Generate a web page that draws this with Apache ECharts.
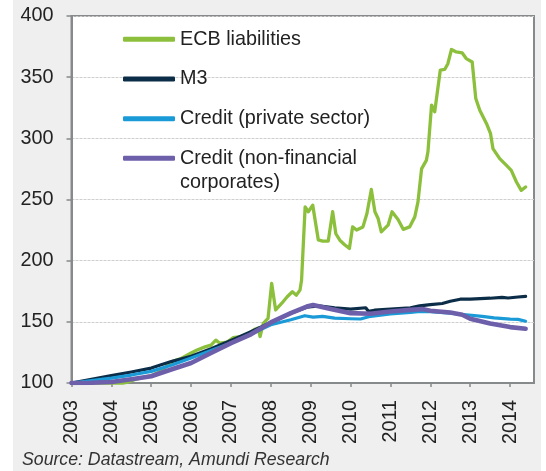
<!DOCTYPE html>
<html>
<head>
<meta charset="utf-8">
<script src="https://cdn.jsdelivr.net/npm/echarts@6/dist/echarts.min.js"></script>
<style>
  html, body { margin: 0; padding: 0; background: #ffffff; }
  #bg { position: absolute; left: 13px; top: 0; width: 528px; height: 471px; background: #efefef; }
  #chart { position: absolute; left: 0; top: 0; width: 546px; height: 471px; }
</style>
</head>
<body>
<div id="bg"></div>
<div id="chart"></div>
<script>
// ---- data ----
const seriesNames = ['ECB liabilities', 'M3', 'Credit (private sector)', 'Credit (non-financial corporates)'];
const xTickLabels = [2003, 2004, 2005, 2006, 2007, 2008, 2009, 2010, 2011, 2012, 2013, 2014];
const yTicks = [100, 150, 200, 250, 300, 350, 400];
const sourceText = 'Source: Datastream, Amundi Research';

const ecbYears = [2003.00, 2003.30, 2003.60, 2004.00, 2004.20, 2004.38, 2004.60, 2004.85, 2005.00, 2005.20,
  2005.40, 2005.55, 2005.75, 2006.00, 2006.15, 2006.35, 2006.50, 2006.62, 2006.72, 2006.90,
  2007.05, 2007.25, 2007.45, 2007.60, 2007.68, 2007.73, 2007.81, 2007.93, 2008.02, 2008.12,
  2008.27, 2008.41, 2008.54, 2008.64, 2008.73, 2008.77, 2008.86, 2008.94, 2009.05, 2009.19,
  2009.30, 2009.44, 2009.55, 2009.63, 2009.73, 2009.85, 2009.97, 2010.05, 2010.15, 2010.31,
  2010.41, 2010.52, 2010.61, 2010.69, 2010.77, 2010.94, 2011.04, 2011.19, 2011.32, 2011.48,
  2011.61, 2011.69, 2011.78, 2011.90, 2011.94, 2012.03, 2012.11, 2012.15, 2012.25, 2012.36,
  2012.44, 2012.53, 2012.65, 2012.80, 2012.90, 2013.05, 2013.14, 2013.24, 2013.41, 2013.51,
  2013.57, 2013.74, 2013.91, 2014.03, 2014.16, 2014.28, 2014.39];
const ecbValues = [100, 99.8, 99.2, 98.4, 99, 100.5, 103, 105, 106, 109,
  114, 118, 120, 124.5, 127, 129.5, 131, 135, 132.5, 133.5,
  137, 138, 140.5, 144, 145, 138, 148.8, 152.9, 181.5, 159.7,
  165, 170.5, 174.6, 171.8, 175.9, 184, 244, 240, 245.4, 217,
  216, 216, 240, 222, 216.7, 213, 210, 227.6, 225, 227.6,
  238.6, 258.2, 240, 234.5, 223.5, 229, 240, 233.7, 225.6, 227.6,
  235.8, 248, 275, 282, 289, 327.2, 321.7, 323, 355.8, 356.3,
  361, 372.6, 370.6, 369.8, 365.2, 362.4, 332.5, 322.9, 312, 303.8,
  291.6, 283.4, 277.9, 273.8, 264.3, 257.5, 260.2];

const m3Years = [2003.0, 2003.5, 2004.0, 2004.5, 2005.0, 2005.5, 2006.0, 2006.5, 2007.0, 2007.5,
  2008.0, 2008.5, 2008.9, 2009.2, 2009.6, 2010.0, 2010.38, 2010.45, 2010.6, 2011.0,
  2011.5, 2011.73, 2012.0, 2012.3, 2012.5, 2012.75, 2013.0, 2013.5, 2013.8, 2013.95,
  2014.0, 2014.2, 2014.39];
const m3Values = [100, 103, 106, 109, 112.2, 117.5, 121.8, 128, 134.8, 142,
  149.5, 157, 162, 163, 161.5, 160.4, 161.5, 158.5, 159.5, 160.4,
  161.5, 163, 164, 165, 166.8, 168.5, 168.5, 169.3, 170, 169.5,
  170.6, 170.3, 170.8];

const privYears = [2003.0, 2003.5, 2004.0, 2004.5, 2005.0, 2005.5, 2006.0, 2006.5, 2007.0, 2007.5,
  2008.0, 2008.5, 2008.85, 2009.06, 2009.3, 2009.6, 2010.0, 2010.25, 2010.5, 2011.0,
  2011.5, 2011.75, 2012.0, 2012.5, 2012.9, 2013.3, 2013.6, 2014.0, 2014.2, 2014.39];
const privValues = [100, 102, 104, 106.5, 109.5, 114.5, 120.4, 126.5, 132.6, 140,
  147.6, 151.7, 155, 153.8, 154.5, 153, 152.5, 152.3, 154.5, 156.5,
  157.7, 158.5, 158.3, 157, 155.8, 154.5, 153.3, 152.2, 152, 150.5];

const nfcYears = [2003.0, 2003.5, 2004.0, 2004.5, 2005.0, 2005.5, 2006.0, 2006.5, 2007.0, 2007.5,
  2008.0, 2008.5, 2008.9, 2009.06, 2009.5, 2010.0, 2010.5, 2011.0, 2011.5, 2011.8,
  2012.0, 2012.5, 2012.8, 2013.0, 2013.5, 2014.0, 2014.39];
const nfcValues = [100, 100.2, 100.8, 103, 105.5, 111, 116.3, 124.5, 132.6, 139.8,
  149.5, 157.1, 162.5, 163.8, 160.5, 157.1, 156.6, 158.5, 159.8, 160.4,
  159, 157.6, 155.8, 152.5, 148.6, 145.7, 144.3];

// ---- build chart ----
const zip = (xs, ys) => xs.map((x, i) => [x, ys[i]]);
const FONT = 'Liberation Sans, Arial, Helvetica, sans-serif';
const TXT = '#222222';
const AXIS = '#878a8a';

const colors = ['#8cc03c', '#0c2d48', '#1a9ad7', '#6e5fab'];
const widths = [3.3, 3.2, 3.2, 4.6];
const datasets = [zip(ecbYears, ecbValues), zip(m3Years, m3Values), zip(privYears, privValues), zip(nfcYears, nfcValues)];

const chart = echarts.init(document.getElementById('chart'), null, { renderer: 'canvas' });
chart.setOption({
  animation: false,
  backgroundColor: 'transparent',
  textStyle: { fontFamily: FONT },
  title: {
    text: sourceText,
    left: 22, top: 449, padding: 0,
    textStyle: { fontFamily: FONT, fontSize: 17.7, fontStyle: 'italic', fontWeight: 'normal', color: '#333333', lineHeight: 22 }
  },
  grid: {
    left: 71.5, right: 12, top: 16, bottom: 88,
    show: true, backgroundColor: '#ffffff', borderColor: AXIS, borderWidth: 2
  },
  legend: [
    {
      data: seriesNames.slice(0, 3),
      orient: 'vertical', left: 123, top: 27.3, padding: 0, itemGap: 15.7,
      itemWidth: 52, itemHeight: 5, icon: 'roundRect', selectedMode: false,
      textStyle: { fontFamily: FONT, fontSize: 19.8, lineHeight: 24, color: TXT }
    },
    {
      data: [seriesNames[3]],
      formatter: () => ' \nCredit (non-financial\ncorporates)',
      orient: 'vertical', left: 123, top: 122.3, padding: 0,
      itemWidth: 52, itemHeight: 5, icon: 'roundRect', selectedMode: false,
      textStyle: { fontFamily: FONT, fontSize: 19.8, lineHeight: 24, color: TXT }
    }
  ],
  xAxis: {
    type: 'value', min: 2003, max: 2014.6, interval: 1,
    axisLine: { show: true, lineStyle: { color: AXIS, width: 2 } },
    axisTick: { show: true, length: 4, customValues: xTickLabels, lineStyle: { color: AXIS, width: 1.5 } },
    axisLabel: {
      customValues: xTickLabels, rotate: 90, margin: 17,
      fontFamily: FONT, fontSize: 19.8, color: TXT,
      formatter: v => String(v)
    },
    splitLine: { show: false }
  },
  yAxis: {
    type: 'value', min: yTicks[0], max: yTicks[yTicks.length - 1], interval: 50,
    axisLine: { show: true, lineStyle: { color: AXIS, width: 2 } },
    axisTick: { show: true, length: 5, lineStyle: { color: AXIS, width: 1.5 } },
    axisLabel: { margin: 18, fontFamily: FONT, fontSize: 19.8, color: TXT },
    splitLine: { show: true, lineStyle: { color: '#cfcfcf', width: 1, type: [3, 1] } }
  },
  series: seriesNames.map((name, i) => ({
    name, type: 'line', data: datasets[i], showSymbol: false, symbol: 'none', smooth: false,
    color: colors[i],
    lineStyle: { color: colors[i], width: widths[i], cap: 'round', join: 'round' },
    z: 2 + i
  }))
});
</script>
</body>
</html>
